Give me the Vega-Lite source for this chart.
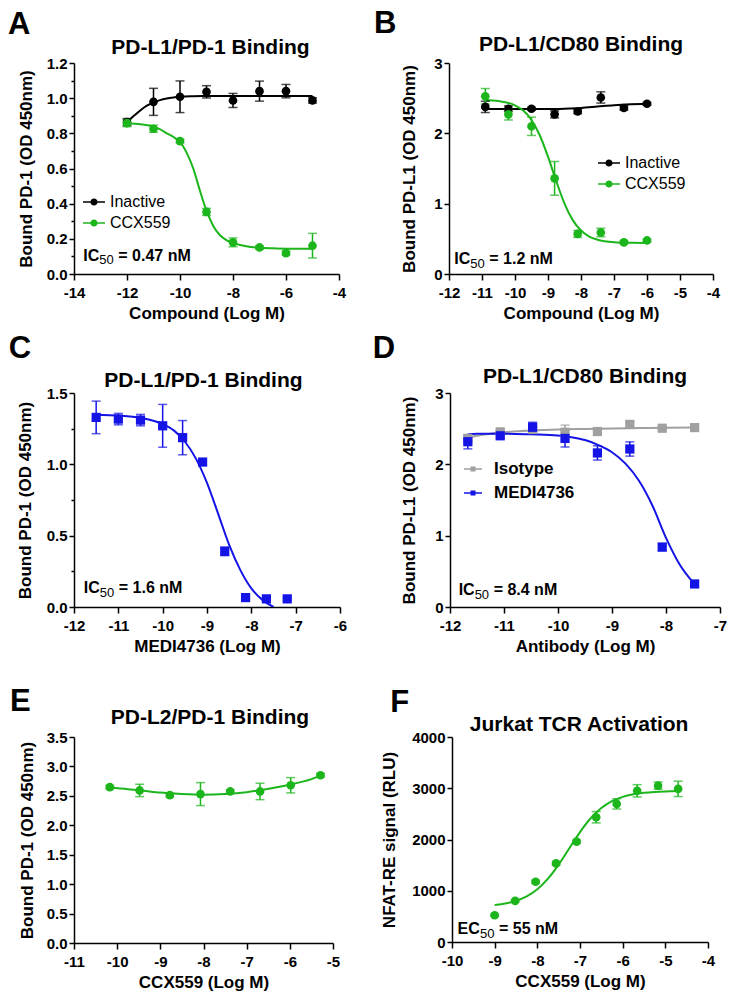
{
"$schema": "https://vega.github.io/schema/vega-lite/v6.json",
"background": "white",
"padding": {"top": 7, "left": 8, "right": 5, "bottom": 5},
"config": {
  "view": {"stroke": null},
  "font": "Liberation Sans",
  "locale": {"number": {"decimal": ".", "thousands": ",", "grouping": [3], "currency": ["$", ""], "minus": "-"}},
  "axis": {"domainColor": "#000", "domainWidth": 1.5, "tickColor": "#000", "tickWidth": 1.5, "tickSize": 5, "grid": false, "labelFont": "Liberation Sans", "labelFontSize": 15, "labelFontWeight": "bold", "labelColor": "#000", "labelFlush": false, "labelOverlap": false, "labelBound": false, "titleFont": "Liberation Sans", "titleFontSize": 17, "titleFontWeight": "bold", "titleColor": "#000"},
  "axisX": {"labelPadding": 5, "titlePadding": 5, "tickSize": 6},
  "axisY": {"labelPadding": 2},
  "legend": {"padding": 0, "labelFont": "Liberation Sans", "labelColor": "#000", "labelLimit": 0, "symbolStrokeWidth": 0, "symbolOpacity": 1},
  "text": {"font": "Liberation Sans", "fontWeight": "bold", "fill": "#000"}
},
"datasets": {
  "A_pts": [
    {"x": -12, "y": 0.864, "e": 0.02, "s": "Inactive"},
    {"x": -11, "y": 0.979, "e": 0.077, "s": "Inactive"},
    {"x": -10, "y": 1.008, "e": 0.09, "s": "Inactive"},
    {"x": -9, "y": 1.036, "e": 0.035, "s": "Inactive"},
    {"x": -8, "y": 0.987, "e": 0.04, "s": "Inactive"},
    {"x": -7, "y": 1.04, "e": 0.057, "s": "Inactive"},
    {"x": -6, "y": 1.04, "e": 0.038, "s": "Inactive"},
    {"x": -5, "y": 0.987, "e": 0.015, "s": "Inactive"},
    {"x": -12, "y": 0.858, "e": 0.02, "s": "CCX559"},
    {"x": -11, "y": 0.826, "e": 0.02, "s": "CCX559"},
    {"x": -10, "y": 0.756, "e": 0.01, "s": "CCX559"},
    {"x": -9, "y": 0.353, "e": 0.02, "s": "CCX559"},
    {"x": -8, "y": 0.18, "e": 0.025, "s": "CCX559"},
    {"x": -7, "y": 0.151, "e": 0.01, "s": "CCX559"},
    {"x": -6, "y": 0.119, "e": 0.01, "s": "CCX559"},
    {"x": -5, "y": 0.161, "e": 0.07, "s": "CCX559"}
  ],
  "A_fit": [
    {"x": -12, "y": 0.866, "s": "Inactive"}, {"x": -11.75, "y": 0.898, "s": "Inactive"}, {"x": -11.5, "y": 0.93, "s": "Inactive"}, {"x": -11.25, "y": 0.957, "s": "Inactive"}, {"x": -11, "y": 0.975, "s": "Inactive"}, {"x": -10.75, "y": 0.989, "s": "Inactive"}, {"x": -10.5, "y": 0.998, "s": "Inactive"}, {"x": -10.25, "y": 1.004, "s": "Inactive"}, {"x": -10, "y": 1.008, "s": "Inactive"}, {"x": -9.5, "y": 1.011, "s": "Inactive"}, {"x": -9, "y": 1.012, "s": "Inactive"}, {"x": -8, "y": 1.013, "s": "Inactive"}, {"x": -5, "y": 1.013, "s": "Inactive"},
    {"x": -12, "y": 0.858, "s": "CCX559"}, {"x": -11.5, "y": 0.852, "s": "CCX559"}, {"x": -11, "y": 0.838, "s": "CCX559"}, {"x": -10.75, "y": 0.822, "s": "CCX559"}, {"x": -10.5, "y": 0.8, "s": "CCX559"}, {"x": -10.25, "y": 0.78, "s": "CCX559"}, {"x": -10, "y": 0.752, "s": "CCX559"}, {"x": -9.75, "y": 0.69, "s": "CCX559"}, {"x": -9.5, "y": 0.6, "s": "CCX559"}, {"x": -9.25, "y": 0.475, "s": "CCX559"}, {"x": -9, "y": 0.36, "s": "CCX559"}, {"x": -8.75, "y": 0.275, "s": "CCX559"}, {"x": -8.5, "y": 0.222, "s": "CCX559"}, {"x": -8.25, "y": 0.193, "s": "CCX559"}, {"x": -8, "y": 0.176, "s": "CCX559"}, {"x": -7.5, "y": 0.158, "s": "CCX559"}, {"x": -7, "y": 0.149, "s": "CCX559"}, {"x": -6.5, "y": 0.146, "s": "CCX559"}, {"x": -6, "y": 0.144, "s": "CCX559"}, {"x": -5, "y": 0.143, "s": "CCX559"}
  ],
  "B_pts": [
    {"x": -10.9, "y": 2.376, "e": 0.08, "s": "Inactive"},
    {"x": -10.2, "y": 2.35, "e": 0.04, "s": "Inactive"},
    {"x": -9.5, "y": 2.35, "e": 0.02, "s": "Inactive"},
    {"x": -8.8, "y": 2.27, "e": 0.05, "s": "Inactive"},
    {"x": -8.1, "y": 2.31, "e": 0.03, "s": "Inactive"},
    {"x": -7.4, "y": 2.51, "e": 0.08, "s": "Inactive"},
    {"x": -6.7, "y": 2.36, "e": 0.03, "s": "Inactive"},
    {"x": -6, "y": 2.42, "e": 0.02, "s": "Inactive"},
    {"x": -10.9, "y": 2.527, "e": 0.11, "s": "CCX559"},
    {"x": -10.2, "y": 2.27, "e": 0.08, "s": "CCX559"},
    {"x": -9.5, "y": 2.1, "e": 0.13, "s": "CCX559"},
    {"x": -8.8, "y": 1.36, "e": 0.24, "s": "CCX559"},
    {"x": -8.1, "y": 0.57, "e": 0.05, "s": "CCX559"},
    {"x": -7.4, "y": 0.59, "e": 0.06, "s": "CCX559"},
    {"x": -6.7, "y": 0.45, "e": 0.02, "s": "CCX559"},
    {"x": -6, "y": 0.477, "e": 0.02, "s": "CCX559"}
  ],
  "B_fit": [
    {"x": -10.9, "y": 2.345, "s": "Inactive"}, {"x": -10, "y": 2.345, "s": "Inactive"}, {"x": -9, "y": 2.345, "s": "Inactive"}, {"x": -8.5, "y": 2.35, "s": "Inactive"}, {"x": -8, "y": 2.36, "s": "Inactive"}, {"x": -7.5, "y": 2.38, "s": "Inactive"}, {"x": -7, "y": 2.4, "s": "Inactive"}, {"x": -6.5, "y": 2.413, "s": "Inactive"}, {"x": -6, "y": 2.42, "s": "Inactive"},
    {"x": -10.9, "y": 2.473, "s": "CCX559"}, {"x": -10.5, "y": 2.459, "s": "CCX559"}, {"x": -10, "y": 2.398, "s": "CCX559"}, {"x": -9.75, "y": 2.323, "s": "CCX559"}, {"x": -9.5, "y": 2.19, "s": "CCX559"}, {"x": -9.25, "y": 1.973, "s": "CCX559"}, {"x": -9, "y": 1.668, "s": "CCX559"}, {"x": -8.75, "y": 1.32, "s": "CCX559"}, {"x": -8.5, "y": 1.002, "s": "CCX559"}, {"x": -8.25, "y": 0.766, "s": "CCX559"}, {"x": -8, "y": 0.618, "s": "CCX559"}, {"x": -7.75, "y": 0.533, "s": "CCX559"}, {"x": -7.5, "y": 0.488, "s": "CCX559"}, {"x": -7, "y": 0.452, "s": "CCX559"}, {"x": -6.5, "y": 0.443, "s": "CCX559"}, {"x": -6, "y": 0.441, "s": "CCX559"}
  ],
  "C_pts": [
    {"x": -11.5, "y": 1.329, "e": 0.114},
    {"x": -11, "y": 1.317, "e": 0.04},
    {"x": -10.5, "y": 1.31, "e": 0.04},
    {"x": -10, "y": 1.27, "e": 0.15},
    {"x": -9.55, "y": 1.187, "e": 0.12},
    {"x": -9.1, "y": 1.016, "e": 0.015},
    {"x": -8.6, "y": 0.39, "e": 0.03},
    {"x": -8.13, "y": 0.066, "e": 0.01},
    {"x": -7.66, "y": 0.057, "e": 0.01},
    {"x": -7.19, "y": 0.057, "e": 0.01}
  ],
  "C_fit": [
    {"x": -11.5, "y": 1.348}, {"x": -11, "y": 1.342}, {"x": -10.5, "y": 1.326}, {"x": -10, "y": 1.283}, {"x": -9.75, "y": 1.238}, {"x": -9.5, "y": 1.16}, {"x": -9.25, "y": 1.04}, {"x": -9, "y": 0.87}, {"x": -8.75, "y": 0.655}, {"x": -8.5, "y": 0.435}, {"x": -8.25, "y": 0.26}, {"x": -8, "y": 0.13}, {"x": -7.75, "y": 0.05}, {"x": -7.5, "y": 0.0}
  ],
  "D_pts": [
    {"x": -11.67, "y": 2.36, "e": 0.03, "s": "Isotype"},
    {"x": -11.07, "y": 2.455, "e": 0.03, "s": "Isotype"},
    {"x": -10.47, "y": 2.49, "e": 0.03, "s": "Isotype"},
    {"x": -9.87, "y": 2.45, "e": 0.1, "s": "Isotype"},
    {"x": -9.27, "y": 2.46, "e": 0.05, "s": "Isotype"},
    {"x": -8.67, "y": 2.56, "e": 0.04, "s": "Isotype"},
    {"x": -8.07, "y": 2.506, "e": 0.02, "s": "Isotype"},
    {"x": -7.47, "y": 2.515, "e": 0.02, "s": "Isotype"},
    {"x": -11.67, "y": 2.317, "e": 0.1, "s": "MEDI4736"},
    {"x": -11.07, "y": 2.4, "e": 0.03, "s": "MEDI4736"},
    {"x": -10.47, "y": 2.52, "e": 0.07, "s": "MEDI4736"},
    {"x": -9.87, "y": 2.363, "e": 0.12, "s": "MEDI4736"},
    {"x": -9.27, "y": 2.16, "e": 0.1, "s": "MEDI4736"},
    {"x": -8.67, "y": 2.215, "e": 0.1, "s": "MEDI4736"},
    {"x": -8.07, "y": 0.84, "e": 0.05, "s": "MEDI4736"},
    {"x": -7.47, "y": 0.323, "e": 0.04, "s": "MEDI4736"}
  ],
  "D_fit": [
    {"x": -11.67, "y": 2.37, "s": "Isotype"}, {"x": -11.5, "y": 2.4, "s": "Isotype"}, {"x": -11.25, "y": 2.43, "s": "Isotype"}, {"x": -11, "y": 2.45, "s": "Isotype"}, {"x": -10.5, "y": 2.475, "s": "Isotype"}, {"x": -10, "y": 2.49, "s": "Isotype"}, {"x": -9.5, "y": 2.497, "s": "Isotype"}, {"x": -9, "y": 2.503, "s": "Isotype"}, {"x": -8.5, "y": 2.508, "s": "Isotype"}, {"x": -8, "y": 2.513, "s": "Isotype"}, {"x": -7.47, "y": 2.517, "s": "Isotype"},
    {"x": -11.67, "y": 2.42, "s": "MEDI4736"}, {"x": -11.5, "y": 2.43, "s": "MEDI4736"}, {"x": -11, "y": 2.43, "s": "MEDI4736"}, {"x": -10.5, "y": 2.42, "s": "MEDI4736"}, {"x": -10, "y": 2.405, "s": "MEDI4736"}, {"x": -9.75, "y": 2.38, "s": "MEDI4736"}, {"x": -9.5, "y": 2.34, "s": "MEDI4736"}, {"x": -9.25, "y": 2.27, "s": "MEDI4736"}, {"x": -9, "y": 2.17, "s": "MEDI4736"}, {"x": -8.75, "y": 2.01, "s": "MEDI4736"}, {"x": -8.5, "y": 1.77, "s": "MEDI4736"}, {"x": -8.25, "y": 1.42, "s": "MEDI4736"}, {"x": -8, "y": 0.97, "s": "MEDI4736"}, {"x": -7.75, "y": 0.6, "s": "MEDI4736"}, {"x": -7.47, "y": 0.32, "s": "MEDI4736"}
  ],
  "E_pts": [
    {"x": -10.17, "y": 2.648, "e": 0.03},
    {"x": -9.48, "y": 2.592, "e": 0.105},
    {"x": -8.78, "y": 2.513, "e": 0.03},
    {"x": -8.07, "y": 2.53, "e": 0.195},
    {"x": -7.38, "y": 2.575, "e": 0.03},
    {"x": -6.69, "y": 2.575, "e": 0.14},
    {"x": -5.98, "y": 2.68, "e": 0.13},
    {"x": -5.29, "y": 2.85, "e": 0.03}
  ],
  "E_fit": [
    {"x": -10.17, "y": 2.645}, {"x": -9.75, "y": 2.612}, {"x": -9.48, "y": 2.595}, {"x": -9, "y": 2.555}, {"x": -8.5, "y": 2.53}, {"x": -8, "y": 2.518}, {"x": -7.5, "y": 2.53}, {"x": -7, "y": 2.562}, {"x": -6.5, "y": 2.62}, {"x": -6, "y": 2.69}, {"x": -5.5, "y": 2.785}, {"x": -5.29, "y": 2.845}
  ],
  "F_pts": [
    {"x": -9.0, "y": 522, "e": 20},
    {"x": -8.52, "y": 803, "e": 25},
    {"x": -8.04, "y": 1175, "e": 30},
    {"x": -7.56, "y": 1533, "e": 30},
    {"x": -7.08, "y": 1958, "e": 30},
    {"x": -6.62, "y": 2434, "e": 110},
    {"x": -6.14, "y": 2695, "e": 100},
    {"x": -5.66, "y": 2950, "e": 120},
    {"x": -5.17, "y": 3050, "e": 70},
    {"x": -4.7, "y": 2988, "e": 150}
  ],
  "F_fit": [
    {"x": -9, "y": 720}, {"x": -8.75, "y": 751}, {"x": -8.5, "y": 804}, {"x": -8.25, "y": 891}, {"x": -8, "y": 1029}, {"x": -7.75, "y": 1235}, {"x": -7.5, "y": 1509}, {"x": -7.25, "y": 1828}, {"x": -7, "y": 2145}, {"x": -6.75, "y": 2414}, {"x": -6.5, "y": 2614}, {"x": -6.25, "y": 2748}, {"x": -6, "y": 2832}, {"x": -5.75, "y": 2882}, {"x": -5.5, "y": 2911}, {"x": -5.25, "y": 2928}, {"x": -5, "y": 2938}, {"x": -4.7, "y": 2944}
  ]
},
"resolve": {"scale": {"color": "independent"}, "legend": {"color": "independent"}},
"spacing": 31,
"vconcat": [
 {
  "resolve": {"scale": {"color": "independent"}, "legend": {"color": "independent"}},
  "spacing": 11,
  "vconcat": [
   {
    "resolve": {"scale": {"color": "independent"}, "legend": {"color": "independent"}},
    "spacing": 28,
    "hconcat": [
     {
      "width": 265, "height": 211,
      "layer": [
       {"data": {"name": "A_fit"}, "transform": [{"filter": "datum.s == 'Inactive'"}],
        "mark": {"type": "line", "strokeWidth": 2, "interpolate": "monotone", "color": "#000000"},
        "encoding": {
         "x": {"field": "x", "type": "quantitative", "scale": {"domain": [-14, -4], "nice": false, "zero": false}, "axis": {"values": [-14, -12, -10, -8, -6, -4], "format": "d", "title": "Compound (Log M)"}},
         "y": {"field": "y", "type": "quantitative", "scale": {"domain": [0, 1.2], "nice": false, "zero": false}, "axis": {"values": [0, 0.1, 0.2, 0.3, 0.4, 0.5, 0.6, 0.7, 0.8, 0.9, 1.0, 1.1, 1.2], "format": ".1f", "labelExpr": "round(datum.value*10) % 2 == 0 ? datum.label : ''", "tickSize": {"condition": {"test": "round(datum.value*10) % 2 == 0", "value": 5}, "value": 3}, "title": "Bound PD-1 (OD 450nm)", "titlePadding": 11}}
        }},
       {"data": {"name": "A_fit"}, "transform": [{"filter": "datum.s == 'CCX559'"}],
        "mark": {"type": "line", "strokeWidth": 2, "interpolate": "monotone", "color": "#1CB51C"},
        "encoding": {
         "x": {"field": "x", "type": "quantitative", "scale": {"domain": [-14, -4], "nice": false, "zero": false}, "axis": {"values": [-14, -12, -10, -8, -6, -4], "format": "d", "title": "Compound (Log M)"}},
         "y": {"field": "y", "type": "quantitative", "scale": {"domain": [0, 1.2], "nice": false, "zero": false}, "axis": {"values": [0, 0.1, 0.2, 0.3, 0.4, 0.5, 0.6, 0.7, 0.8, 0.9, 1.0, 1.1, 1.2], "format": ".1f", "labelExpr": "round(datum.value*10) % 2 == 0 ? datum.label : ''", "tickSize": {"condition": {"test": "round(datum.value*10) % 2 == 0", "value": 5}, "value": 3}, "title": "Bound PD-1 (OD 450nm)", "titlePadding": 11}}
        }},
       {"data": {"name": "A_pts"}, "transform": [{"filter": "datum.s == 'Inactive'"}],
        "mark": {"type": "errorbar", "color": "#000000", "thickness": 1.5, "ticks": {"size": 9, "thickness": 1.5}},
        "encoding": {
         "x": {"field": "x", "type": "quantitative", "scale": {"domain": [-14, -4], "nice": false, "zero": false}, "axis": {"values": [-14, -12, -10, -8, -6, -4], "format": "d", "title": "Compound (Log M)"}},
         "y": {"field": "y", "type": "quantitative", "scale": {"domain": [0, 1.2], "nice": false, "zero": false}, "axis": {"values": [0, 0.1, 0.2, 0.3, 0.4, 0.5, 0.6, 0.7, 0.8, 0.9, 1.0, 1.1, 1.2], "format": ".1f", "labelExpr": "round(datum.value*10) % 2 == 0 ? datum.label : ''", "tickSize": {"condition": {"test": "round(datum.value*10) % 2 == 0", "value": 5}, "value": 3}, "title": "Bound PD-1 (OD 450nm)", "titlePadding": 11}},
         "yError": {"field": "e"}
        }},
       {"data": {"name": "A_pts"}, "transform": [{"filter": "datum.s == 'CCX559'"}],
        "mark": {"type": "errorbar", "color": "#1CB51C", "thickness": 1.5, "ticks": {"size": 9, "thickness": 1.5}},
        "encoding": {
         "x": {"field": "x", "type": "quantitative", "scale": {"domain": [-14, -4], "nice": false, "zero": false}, "axis": {"values": [-14, -12, -10, -8, -6, -4], "format": "d", "title": "Compound (Log M)"}},
         "y": {"field": "y", "type": "quantitative", "scale": {"domain": [0, 1.2], "nice": false, "zero": false}, "axis": {"values": [0, 0.1, 0.2, 0.3, 0.4, 0.5, 0.6, 0.7, 0.8, 0.9, 1.0, 1.1, 1.2], "format": ".1f", "labelExpr": "round(datum.value*10) % 2 == 0 ? datum.label : ''", "tickSize": {"condition": {"test": "round(datum.value*10) % 2 == 0", "value": 5}, "value": 3}, "title": "Bound PD-1 (OD 450nm)", "titlePadding": 11}},
         "yError": {"field": "e"}
        }},
       {"data": {"name": "A_pts"},
        "mark": {"type": "circle", "size": 75, "opacity": 1},
        "encoding": {
         "x": {"field": "x", "type": "quantitative", "scale": {"domain": [-14, -4], "nice": false, "zero": false}, "axis": {"values": [-14, -12, -10, -8, -6, -4], "format": "d", "title": "Compound (Log M)"}},
         "y": {"field": "y", "type": "quantitative", "scale": {"domain": [0, 1.2], "nice": false, "zero": false}, "axis": {"values": [0, 0.1, 0.2, 0.3, 0.4, 0.5, 0.6, 0.7, 0.8, 0.9, 1.0, 1.1, 1.2], "format": ".1f", "labelExpr": "round(datum.value*10) % 2 == 0 ? datum.label : ''", "tickSize": {"condition": {"test": "round(datum.value*10) % 2 == 0", "value": 5}, "value": 3}, "title": "Bound PD-1 (OD 450nm)", "titlePadding": 11}},
         "color": {"field": "s", "type": "nominal", "scale": {"domain": ["Inactive", "CCX559"], "range": ["#000000", "#1CB51C"]}, "legend": {"title": null, "orient": "none", "legendX": 10, "legendY": 129, "symbolType": "M-1.1,-0.075H1.1V0.075H-1.1Z M0.36,0A0.36,0.36,0,1,1,-0.36,0A0.36,0.36,0,1,1,0.36,0Z", "symbolSize": 400, "labelFontSize": 16, "labelFontWeight": "normal", "labelOffset": 6, "rowPadding": 3}}
        }},
       {"data": {"values": [{}]},
        "mark": {"type": "text", "text": "IC", "fontSize": 16, "align": "left", "baseline": "alphabetic"},
        "encoding": {
         "x": {"datum": -13.65, "type": "quantitative", "scale": {"domain": [-14, -4], "nice": false, "zero": false}, "axis": {"values": [-14, -12, -10, -8, -6, -4], "format": "d", "title": "Compound (Log M)"}},
         "y": {"datum": 0.074, "type": "quantitative", "scale": {"domain": [0, 1.2], "nice": false, "zero": false}, "axis": {"values": [0, 0.1, 0.2, 0.3, 0.4, 0.5, 0.6, 0.7, 0.8, 0.9, 1.0, 1.1, 1.2], "format": ".1f", "labelExpr": "round(datum.value*10) % 2 == 0 ? datum.label : ''", "tickSize": {"condition": {"test": "round(datum.value*10) % 2 == 0", "value": 5}, "value": 3}, "title": "Bound PD-1 (OD 450nm)", "titlePadding": 11}}
        }},
       {"data": {"values": [{}]},
        "mark": {"type": "text", "text": "50", "fontSize": 13, "fontWeight": "normal", "dx": 16, "dy": 3.5, "align": "left", "baseline": "alphabetic"},
        "encoding": {
         "x": {"datum": -13.65, "type": "quantitative", "scale": {"domain": [-14, -4], "nice": false, "zero": false}, "axis": {"values": [-14, -12, -10, -8, -6, -4], "format": "d", "title": "Compound (Log M)"}},
         "y": {"datum": 0.074, "type": "quantitative", "scale": {"domain": [0, 1.2], "nice": false, "zero": false}, "axis": {"values": [0, 0.1, 0.2, 0.3, 0.4, 0.5, 0.6, 0.7, 0.8, 0.9, 1.0, 1.1, 1.2], "format": ".1f", "labelExpr": "round(datum.value*10) % 2 == 0 ? datum.label : ''", "tickSize": {"condition": {"test": "round(datum.value*10) % 2 == 0", "value": 5}, "value": 3}, "title": "Bound PD-1 (OD 450nm)", "titlePadding": 11}}
        }},
       {"data": {"values": [{}]},
        "mark": {"type": "text", "text": "= 0.47 nM", "fontSize": 16, "dx": 35, "align": "left", "baseline": "alphabetic"},
        "encoding": {
         "x": {"datum": -13.65, "type": "quantitative", "scale": {"domain": [-14, -4], "nice": false, "zero": false}, "axis": {"values": [-14, -12, -10, -8, -6, -4], "format": "d", "title": "Compound (Log M)"}},
         "y": {"datum": 0.074, "type": "quantitative", "scale": {"domain": [0, 1.2], "nice": false, "zero": false}, "axis": {"values": [0, 0.1, 0.2, 0.3, 0.4, 0.5, 0.6, 0.7, 0.8, 0.9, 1.0, 1.1, 1.2], "format": ".1f", "labelExpr": "round(datum.value*10) % 2 == 0 ? datum.label : ''", "tickSize": {"condition": {"test": "round(datum.value*10) % 2 == 0", "value": 5}, "value": 3}, "title": "Bound PD-1 (OD 450nm)", "titlePadding": 11}}
        }},
       {"data": {"values": [{}]},
        "mark": {"type": "text", "text": "PD-L1/PD-1 Binding", "fontSize": 21, "align": "center", "baseline": "alphabetic"},
        "encoding": {
         "x": {"datum": -8.85, "type": "quantitative", "scale": {"domain": [-14, -4], "nice": false, "zero": false}, "axis": {"values": [-14, -12, -10, -8, -6, -4], "format": "d", "title": "Compound (Log M)"}},
         "y": {"datum": 1.249, "type": "quantitative", "scale": {"domain": [0, 1.2], "nice": false, "zero": false}, "axis": {"values": [0, 0.1, 0.2, 0.3, 0.4, 0.5, 0.6, 0.7, 0.8, 0.9, 1.0, 1.1, 1.2], "format": ".1f", "labelExpr": "round(datum.value*10) % 2 == 0 ? datum.label : ''", "tickSize": {"condition": {"test": "round(datum.value*10) % 2 == 0", "value": 5}, "value": 3}, "title": "Bound PD-1 (OD 450nm)", "titlePadding": 11}}
        }},
       {"data": {"values": [{}]},
        "mark": {"type": "text", "text": "A", "fontSize": 31, "align": "left", "baseline": "alphabetic"},
        "encoding": {
         "x": {"datum": -16.49, "type": "quantitative", "scale": {"domain": [-14, -4], "nice": false, "zero": false}, "axis": {"values": [-14, -12, -10, -8, -6, -4], "format": "d", "title": "Compound (Log M)"}},
         "y": {"datum": 1.365, "type": "quantitative", "scale": {"domain": [0, 1.2], "nice": false, "zero": false}, "axis": {"values": [0, 0.1, 0.2, 0.3, 0.4, 0.5, 0.6, 0.7, 0.8, 0.9, 1.0, 1.1, 1.2], "format": ".1f", "labelExpr": "round(datum.value*10) % 2 == 0 ? datum.label : ''", "tickSize": {"condition": {"test": "round(datum.value*10) % 2 == 0", "value": 5}, "value": 3}, "title": "Bound PD-1 (OD 450nm)", "titlePadding": 11}}
        }}
      ]
     },
     {
      "width": 264, "height": 211,
      "layer": [
       {"data": {"name": "B_fit"}, "transform": [{"filter": "datum.s == 'Inactive'"}],
        "mark": {"type": "line", "strokeWidth": 2, "interpolate": "monotone", "color": "#000000"},
        "encoding": {
         "x": {"field": "x", "type": "quantitative", "scale": {"domain": [-12, -4], "nice": false, "zero": false}, "axis": {"values": [-12, -11, -10, -9, -8, -7, -6, -5, -4], "format": "d", "title": "Compound (Log M)"}},
         "y": {"field": "y", "type": "quantitative", "scale": {"domain": [0, 3], "nice": false, "zero": false}, "axis": {"values": [0, 0.5, 1, 1.5, 2, 2.5, 3], "format": "d", "labelExpr": "datum.value % 1 == 0 ? datum.label : ''", "tickSize": {"condition": {"test": "datum.value % 1 == 0", "value": 5}, "value": 3}, "title": "Bound PD-L1 (OD 450nm)", "titlePadding": 15}}
        }},
       {"data": {"name": "B_fit"}, "transform": [{"filter": "datum.s == 'CCX559'"}],
        "mark": {"type": "line", "strokeWidth": 2, "interpolate": "monotone", "color": "#1CB51C"},
        "encoding": {
         "x": {"field": "x", "type": "quantitative", "scale": {"domain": [-12, -4], "nice": false, "zero": false}, "axis": {"values": [-12, -11, -10, -9, -8, -7, -6, -5, -4], "format": "d", "title": "Compound (Log M)"}},
         "y": {"field": "y", "type": "quantitative", "scale": {"domain": [0, 3], "nice": false, "zero": false}, "axis": {"values": [0, 0.5, 1, 1.5, 2, 2.5, 3], "format": "d", "labelExpr": "datum.value % 1 == 0 ? datum.label : ''", "tickSize": {"condition": {"test": "datum.value % 1 == 0", "value": 5}, "value": 3}, "title": "Bound PD-L1 (OD 450nm)", "titlePadding": 15}}
        }},
       {"data": {"name": "B_pts"}, "transform": [{"filter": "datum.s == 'Inactive'"}],
        "mark": {"type": "errorbar", "color": "#000000", "thickness": 1.5, "ticks": {"size": 9, "thickness": 1.5}},
        "encoding": {
         "x": {"field": "x", "type": "quantitative", "scale": {"domain": [-12, -4], "nice": false, "zero": false}, "axis": {"values": [-12, -11, -10, -9, -8, -7, -6, -5, -4], "format": "d", "title": "Compound (Log M)"}},
         "y": {"field": "y", "type": "quantitative", "scale": {"domain": [0, 3], "nice": false, "zero": false}, "axis": {"values": [0, 0.5, 1, 1.5, 2, 2.5, 3], "format": "d", "labelExpr": "datum.value % 1 == 0 ? datum.label : ''", "tickSize": {"condition": {"test": "datum.value % 1 == 0", "value": 5}, "value": 3}, "title": "Bound PD-L1 (OD 450nm)", "titlePadding": 15}},
         "yError": {"field": "e"}
        }},
       {"data": {"name": "B_pts"}, "transform": [{"filter": "datum.s == 'CCX559'"}],
        "mark": {"type": "errorbar", "color": "#1CB51C", "thickness": 1.5, "ticks": {"size": 9, "thickness": 1.5}},
        "encoding": {
         "x": {"field": "x", "type": "quantitative", "scale": {"domain": [-12, -4], "nice": false, "zero": false}, "axis": {"values": [-12, -11, -10, -9, -8, -7, -6, -5, -4], "format": "d", "title": "Compound (Log M)"}},
         "y": {"field": "y", "type": "quantitative", "scale": {"domain": [0, 3], "nice": false, "zero": false}, "axis": {"values": [0, 0.5, 1, 1.5, 2, 2.5, 3], "format": "d", "labelExpr": "datum.value % 1 == 0 ? datum.label : ''", "tickSize": {"condition": {"test": "datum.value % 1 == 0", "value": 5}, "value": 3}, "title": "Bound PD-L1 (OD 450nm)", "titlePadding": 15}},
         "yError": {"field": "e"}
        }},
       {"data": {"name": "B_pts"},
        "mark": {"type": "circle", "size": 75, "opacity": 1},
        "encoding": {
         "x": {"field": "x", "type": "quantitative", "scale": {"domain": [-12, -4], "nice": false, "zero": false}, "axis": {"values": [-12, -11, -10, -9, -8, -7, -6, -5, -4], "format": "d", "title": "Compound (Log M)"}},
         "y": {"field": "y", "type": "quantitative", "scale": {"domain": [0, 3], "nice": false, "zero": false}, "axis": {"values": [0, 0.5, 1, 1.5, 2, 2.5, 3], "format": "d", "labelExpr": "datum.value % 1 == 0 ? datum.label : ''", "tickSize": {"condition": {"test": "datum.value % 1 == 0", "value": 5}, "value": 3}, "title": "Bound PD-L1 (OD 450nm)", "titlePadding": 15}},
         "color": {"field": "s", "type": "nominal", "scale": {"domain": ["Inactive", "CCX559"], "range": ["#000000", "#1CB51C"]}, "legend": {"title": null, "orient": "none", "legendX": 150, "legendY": 90, "symbolType": "M-1.1,-0.075H1.1V0.075H-1.1Z M0.36,0A0.36,0.36,0,1,1,-0.36,0A0.36,0.36,0,1,1,0.36,0Z", "symbolSize": 400, "labelFontSize": 16, "labelFontWeight": "normal", "labelOffset": 6, "rowPadding": 3}}
        }},
       {"data": {"values": [{}]},
        "mark": {"type": "text", "text": "IC", "fontSize": 16, "align": "left", "baseline": "alphabetic"},
        "encoding": {
         "x": {"datum": -11.84, "type": "quantitative", "scale": {"domain": [-12, -4], "nice": false, "zero": false}, "axis": {"values": [-12, -11, -10, -9, -8, -7, -6, -5, -4], "format": "d", "title": "Compound (Log M)"}},
         "y": {"datum": 0.138, "type": "quantitative", "scale": {"domain": [0, 3], "nice": false, "zero": false}, "axis": {"values": [0, 0.5, 1, 1.5, 2, 2.5, 3], "format": "d", "labelExpr": "datum.value % 1 == 0 ? datum.label : ''", "tickSize": {"condition": {"test": "datum.value % 1 == 0", "value": 5}, "value": 3}, "title": "Bound PD-L1 (OD 450nm)", "titlePadding": 15}}
        }},
       {"data": {"values": [{}]},
        "mark": {"type": "text", "text": "50", "fontSize": 13, "fontWeight": "normal", "dx": 16, "dy": 3.5, "align": "left", "baseline": "alphabetic"},
        "encoding": {
         "x": {"datum": -11.84, "type": "quantitative", "scale": {"domain": [-12, -4], "nice": false, "zero": false}, "axis": {"values": [-12, -11, -10, -9, -8, -7, -6, -5, -4], "format": "d", "title": "Compound (Log M)"}},
         "y": {"datum": 0.138, "type": "quantitative", "scale": {"domain": [0, 3], "nice": false, "zero": false}, "axis": {"values": [0, 0.5, 1, 1.5, 2, 2.5, 3], "format": "d", "labelExpr": "datum.value % 1 == 0 ? datum.label : ''", "tickSize": {"condition": {"test": "datum.value % 1 == 0", "value": 5}, "value": 3}, "title": "Bound PD-L1 (OD 450nm)", "titlePadding": 15}}
        }},
       {"data": {"values": [{}]},
        "mark": {"type": "text", "text": "= 1.2 nM", "fontSize": 16, "dx": 35, "align": "left", "baseline": "alphabetic"},
        "encoding": {
         "x": {"datum": -11.84, "type": "quantitative", "scale": {"domain": [-12, -4], "nice": false, "zero": false}, "axis": {"values": [-12, -11, -10, -9, -8, -7, -6, -5, -4], "format": "d", "title": "Compound (Log M)"}},
         "y": {"datum": 0.138, "type": "quantitative", "scale": {"domain": [0, 3], "nice": false, "zero": false}, "axis": {"values": [0, 0.5, 1, 1.5, 2, 2.5, 3], "format": "d", "labelExpr": "datum.value % 1 == 0 ? datum.label : ''", "tickSize": {"condition": {"test": "datum.value % 1 == 0", "value": 5}, "value": 3}, "title": "Bound PD-L1 (OD 450nm)", "titlePadding": 15}}
        }},
       {"data": {"values": [{}]},
        "mark": {"type": "text", "text": "PD-L1/CD80 Binding", "fontSize": 21, "align": "center", "baseline": "alphabetic"},
        "encoding": {
         "x": {"datum": -8.0, "type": "quantitative", "scale": {"domain": [-12, -4], "nice": false, "zero": false}, "axis": {"values": [-12, -11, -10, -9, -8, -7, -6, -5, -4], "format": "d", "title": "Compound (Log M)"}},
         "y": {"datum": 3.171, "type": "quantitative", "scale": {"domain": [0, 3], "nice": false, "zero": false}, "axis": {"values": [0, 0.5, 1, 1.5, 2, 2.5, 3], "format": "d", "labelExpr": "datum.value % 1 == 0 ? datum.label : ''", "tickSize": {"condition": {"test": "datum.value % 1 == 0", "value": 5}, "value": 3}, "title": "Bound PD-L1 (OD 450nm)", "titlePadding": 15}}
        }},
       {"data": {"values": [{}]},
        "mark": {"type": "text", "text": "B", "fontSize": 31, "align": "left", "baseline": "alphabetic"},
        "encoding": {
         "x": {"datum": -14.27, "type": "quantitative", "scale": {"domain": [-12, -4], "nice": false, "zero": false}, "axis": {"values": [-12, -11, -10, -9, -8, -7, -6, -5, -4], "format": "d", "title": "Compound (Log M)"}},
         "y": {"datum": 3.427, "type": "quantitative", "scale": {"domain": [0, 3], "nice": false, "zero": false}, "axis": {"values": [0, 0.5, 1, 1.5, 2, 2.5, 3], "format": "d", "labelExpr": "datum.value % 1 == 0 ? datum.label : ''", "tickSize": {"condition": {"test": "datum.value % 1 == 0", "value": 5}, "value": 3}, "title": "Bound PD-L1 (OD 450nm)", "titlePadding": 15}}
        }}
      ]
     }
    ]
   },
   {
    "resolve": {"scale": {"color": "independent"}, "legend": {"color": "independent"}},
    "spacing": 25,
    "hconcat": [
     {
      "width": 266, "height": 214,
      "layer": [
       {"data": {"name": "C_fit"},
        "mark": {"type": "line", "strokeWidth": 2, "interpolate": "monotone", "color": "#1414E6", "clip": true},
        "encoding": {
         "x": {"field": "x", "type": "quantitative", "scale": {"domain": [-12, -6], "nice": false, "zero": false}, "axis": {"values": [-12, -11, -10, -9, -8, -7, -6], "format": "d", "title": "MEDI4736 (Log M)"}},
         "y": {"field": "y", "type": "quantitative", "scale": {"domain": [0, 1.5], "nice": false, "zero": false}, "axis": {"values": [0, 0.25, 0.5, 0.75, 1.0, 1.25, 1.5], "format": ".1f", "labelExpr": "round(datum.value*4) % 2 == 0 ? datum.label : ''", "tickSize": {"condition": {"test": "round(datum.value*4) % 2 == 0", "value": 5}, "value": 3}, "title": "Bound PD-1 (OD 450nm)", "titlePadding": 12}}
        }},
       {"data": {"name": "C_pts"},
        "mark": {"type": "errorbar", "color": "#1414E6", "thickness": 1.5, "ticks": {"size": 9, "thickness": 1.5}},
        "encoding": {
         "x": {"field": "x", "type": "quantitative", "scale": {"domain": [-12, -6], "nice": false, "zero": false}, "axis": {"values": [-12, -11, -10, -9, -8, -7, -6], "format": "d", "title": "MEDI4736 (Log M)"}},
         "y": {"field": "y", "type": "quantitative", "scale": {"domain": [0, 1.5], "nice": false, "zero": false}, "axis": {"values": [0, 0.25, 0.5, 0.75, 1.0, 1.25, 1.5], "format": ".1f", "labelExpr": "round(datum.value*4) % 2 == 0 ? datum.label : ''", "tickSize": {"condition": {"test": "round(datum.value*4) % 2 == 0", "value": 5}, "value": 3}, "title": "Bound PD-1 (OD 450nm)", "titlePadding": 12}},
         "yError": {"field": "e"}
        }},
       {"data": {"name": "C_pts"},
        "mark": {"type": "square", "size": 85, "opacity": 1, "color": "#1414E6"},
        "encoding": {
         "x": {"field": "x", "type": "quantitative", "scale": {"domain": [-12, -6], "nice": false, "zero": false}, "axis": {"values": [-12, -11, -10, -9, -8, -7, -6], "format": "d", "title": "MEDI4736 (Log M)"}},
         "y": {"field": "y", "type": "quantitative", "scale": {"domain": [0, 1.5], "nice": false, "zero": false}, "axis": {"values": [0, 0.25, 0.5, 0.75, 1.0, 1.25, 1.5], "format": ".1f", "labelExpr": "round(datum.value*4) % 2 == 0 ? datum.label : ''", "tickSize": {"condition": {"test": "round(datum.value*4) % 2 == 0", "value": 5}, "value": 3}, "title": "Bound PD-1 (OD 450nm)", "titlePadding": 12}}
        }},
       {"data": {"values": [{}]},
        "mark": {"type": "text", "text": "IC", "fontSize": 16, "align": "left", "baseline": "alphabetic"},
        "encoding": {
         "x": {"datum": -11.78, "type": "quantitative", "scale": {"domain": [-12, -6], "nice": false, "zero": false}, "axis": {"values": [-12, -11, -10, -9, -8, -7, -6], "format": "d", "title": "MEDI4736 (Log M)"}},
         "y": {"datum": 0.096, "type": "quantitative", "scale": {"domain": [0, 1.5], "nice": false, "zero": false}, "axis": {"values": [0, 0.25, 0.5, 0.75, 1.0, 1.25, 1.5], "format": ".1f", "labelExpr": "round(datum.value*4) % 2 == 0 ? datum.label : ''", "tickSize": {"condition": {"test": "round(datum.value*4) % 2 == 0", "value": 5}, "value": 3}, "title": "Bound PD-1 (OD 450nm)", "titlePadding": 12}}
        }},
       {"data": {"values": [{}]},
        "mark": {"type": "text", "text": "50", "fontSize": 13, "fontWeight": "normal", "dx": 16, "dy": 3.5, "align": "left", "baseline": "alphabetic"},
        "encoding": {
         "x": {"datum": -11.78, "type": "quantitative", "scale": {"domain": [-12, -6], "nice": false, "zero": false}, "axis": {"values": [-12, -11, -10, -9, -8, -7, -6], "format": "d", "title": "MEDI4736 (Log M)"}},
         "y": {"datum": 0.096, "type": "quantitative", "scale": {"domain": [0, 1.5], "nice": false, "zero": false}, "axis": {"values": [0, 0.25, 0.5, 0.75, 1.0, 1.25, 1.5], "format": ".1f", "labelExpr": "round(datum.value*4) % 2 == 0 ? datum.label : ''", "tickSize": {"condition": {"test": "round(datum.value*4) % 2 == 0", "value": 5}, "value": 3}, "title": "Bound PD-1 (OD 450nm)", "titlePadding": 12}}
        }},
       {"data": {"values": [{}]},
        "mark": {"type": "text", "text": "= 1.6 nM", "fontSize": 16, "dx": 35, "align": "left", "baseline": "alphabetic"},
        "encoding": {
         "x": {"datum": -11.78, "type": "quantitative", "scale": {"domain": [-12, -6], "nice": false, "zero": false}, "axis": {"values": [-12, -11, -10, -9, -8, -7, -6], "format": "d", "title": "MEDI4736 (Log M)"}},
         "y": {"datum": 0.096, "type": "quantitative", "scale": {"domain": [0, 1.5], "nice": false, "zero": false}, "axis": {"values": [0, 0.25, 0.5, 0.75, 1.0, 1.25, 1.5], "format": ".1f", "labelExpr": "round(datum.value*4) % 2 == 0 ? datum.label : ''", "tickSize": {"condition": {"test": "round(datum.value*4) % 2 == 0", "value": 5}, "value": 3}, "title": "Bound PD-1 (OD 450nm)", "titlePadding": 12}}
        }},
       {"data": {"values": [{}]},
        "mark": {"type": "text", "text": "PD-L1/PD-1 Binding", "fontSize": 21, "align": "center", "baseline": "alphabetic"},
        "encoding": {
         "x": {"datum": -9.08, "type": "quantitative", "scale": {"domain": [-12, -6], "nice": false, "zero": false}, "axis": {"values": [-12, -11, -10, -9, -8, -7, -6], "format": "d", "title": "MEDI4736 (Log M)"}},
         "y": {"datum": 1.544, "type": "quantitative", "scale": {"domain": [0, 1.5], "nice": false, "zero": false}, "axis": {"values": [0, 0.25, 0.5, 0.75, 1.0, 1.25, 1.5], "format": ".1f", "labelExpr": "round(datum.value*4) % 2 == 0 ? datum.label : ''", "tickSize": {"condition": {"test": "round(datum.value*4) % 2 == 0", "value": 5}, "value": 3}, "title": "Bound PD-1 (OD 450nm)", "titlePadding": 12}}
        }},
       {"data": {"values": [{}]},
        "mark": {"type": "text", "text": "C", "fontSize": 31, "align": "left", "baseline": "alphabetic"},
        "encoding": {
         "x": {"datum": -13.47, "type": "quantitative", "scale": {"domain": [-12, -6], "nice": false, "zero": false}, "axis": {"values": [-12, -11, -10, -9, -8, -7, -6], "format": "d", "title": "MEDI4736 (Log M)"}},
         "y": {"datum": 1.745, "type": "quantitative", "scale": {"domain": [0, 1.5], "nice": false, "zero": false}, "axis": {"values": [0, 0.25, 0.5, 0.75, 1.0, 1.25, 1.5], "format": ".1f", "labelExpr": "round(datum.value*4) % 2 == 0 ? datum.label : ''", "tickSize": {"condition": {"test": "round(datum.value*4) % 2 == 0", "value": 5}, "value": 3}, "title": "Bound PD-1 (OD 450nm)", "titlePadding": 12}}
        }}
      ]
     },
     {
      "width": 270, "height": 214,
      "layer": [
       {"data": {"name": "D_fit"}, "transform": [{"filter": "datum.s == 'Isotype'"}],
        "mark": {"type": "line", "strokeWidth": 2, "interpolate": "monotone", "color": "#A0A0A0"},
        "encoding": {
         "x": {"field": "x", "type": "quantitative", "scale": {"domain": [-12, -7], "nice": false, "zero": false}, "axis": {"values": [-12, -11, -10, -9, -8, -7], "format": "d", "title": "Antibody (Log M)"}},
         "y": {"field": "y", "type": "quantitative", "scale": {"domain": [0, 3], "nice": false, "zero": false}, "axis": {"values": [0, 0.5, 1, 1.5, 2, 2.5, 3], "format": "d", "labelExpr": "datum.value % 1 == 0 ? datum.label : ''", "tickSize": {"condition": {"test": "datum.value % 1 == 0", "value": 5}, "value": 3}, "title": "Bound PD-L1 (OD 450nm)", "titlePadding": 16}}
        }},
       {"data": {"name": "D_fit"}, "transform": [{"filter": "datum.s == 'MEDI4736'"}],
        "mark": {"type": "line", "strokeWidth": 2, "interpolate": "monotone", "color": "#1414E6"},
        "encoding": {
         "x": {"field": "x", "type": "quantitative", "scale": {"domain": [-12, -7], "nice": false, "zero": false}, "axis": {"values": [-12, -11, -10, -9, -8, -7], "format": "d", "title": "Antibody (Log M)"}},
         "y": {"field": "y", "type": "quantitative", "scale": {"domain": [0, 3], "nice": false, "zero": false}, "axis": {"values": [0, 0.5, 1, 1.5, 2, 2.5, 3], "format": "d", "labelExpr": "datum.value % 1 == 0 ? datum.label : ''", "tickSize": {"condition": {"test": "datum.value % 1 == 0", "value": 5}, "value": 3}, "title": "Bound PD-L1 (OD 450nm)", "titlePadding": 16}}
        }},
       {"data": {"name": "D_pts"}, "transform": [{"filter": "datum.s == 'Isotype'"}],
        "mark": {"type": "errorbar", "color": "#A0A0A0", "thickness": 1.5, "ticks": {"size": 9, "thickness": 1.5}},
        "encoding": {
         "x": {"field": "x", "type": "quantitative", "scale": {"domain": [-12, -7], "nice": false, "zero": false}, "axis": {"values": [-12, -11, -10, -9, -8, -7], "format": "d", "title": "Antibody (Log M)"}},
         "y": {"field": "y", "type": "quantitative", "scale": {"domain": [0, 3], "nice": false, "zero": false}, "axis": {"values": [0, 0.5, 1, 1.5, 2, 2.5, 3], "format": "d", "labelExpr": "datum.value % 1 == 0 ? datum.label : ''", "tickSize": {"condition": {"test": "datum.value % 1 == 0", "value": 5}, "value": 3}, "title": "Bound PD-L1 (OD 450nm)", "titlePadding": 16}},
         "yError": {"field": "e"}
        }},
       {"data": {"name": "D_pts"}, "transform": [{"filter": "datum.s == 'MEDI4736'"}],
        "mark": {"type": "errorbar", "color": "#1414E6", "thickness": 1.5, "ticks": {"size": 9, "thickness": 1.5}},
        "encoding": {
         "x": {"field": "x", "type": "quantitative", "scale": {"domain": [-12, -7], "nice": false, "zero": false}, "axis": {"values": [-12, -11, -10, -9, -8, -7], "format": "d", "title": "Antibody (Log M)"}},
         "y": {"field": "y", "type": "quantitative", "scale": {"domain": [0, 3], "nice": false, "zero": false}, "axis": {"values": [0, 0.5, 1, 1.5, 2, 2.5, 3], "format": "d", "labelExpr": "datum.value % 1 == 0 ? datum.label : ''", "tickSize": {"condition": {"test": "datum.value % 1 == 0", "value": 5}, "value": 3}, "title": "Bound PD-L1 (OD 450nm)", "titlePadding": 16}},
         "yError": {"field": "e"}
        }},
       {"data": {"name": "D_pts"},
        "mark": {"type": "square", "size": 85, "opacity": 1},
        "encoding": {
         "x": {"field": "x", "type": "quantitative", "scale": {"domain": [-12, -7], "nice": false, "zero": false}, "axis": {"values": [-12, -11, -10, -9, -8, -7], "format": "d", "title": "Antibody (Log M)"}},
         "y": {"field": "y", "type": "quantitative", "scale": {"domain": [0, 3], "nice": false, "zero": false}, "axis": {"values": [0, 0.5, 1, 1.5, 2, 2.5, 3], "format": "d", "labelExpr": "datum.value % 1 == 0 ? datum.label : ''", "tickSize": {"condition": {"test": "datum.value % 1 == 0", "value": 5}, "value": 3}, "title": "Bound PD-L1 (OD 450nm)", "titlePadding": 16}},
         "color": {"field": "s", "type": "nominal", "scale": {"domain": ["Isotype", "MEDI4736"], "range": ["#A0A0A0", "#1414E6"]}, "legend": {"title": null, "orient": "none", "legendX": 14, "legendY": 67, "symbolType": "M-1,-0.085H1V0.085H-1Z M-0.28,-0.28H0.28V0.28H-0.28Z", "symbolSize": 324, "labelFontSize": 17, "labelFontWeight": "bold", "labelOffset": 12, "rowPadding": 7}}
        }},
       {"data": {"values": [{}]},
        "mark": {"type": "text", "text": "IC", "fontSize": 16, "align": "left", "baseline": "alphabetic"},
        "encoding": {
         "x": {"datum": -11.84, "type": "quantitative", "scale": {"domain": [-12, -7], "nice": false, "zero": false}, "axis": {"values": [-12, -11, -10, -9, -8, -7], "format": "d", "title": "Antibody (Log M)"}},
         "y": {"datum": 0.168, "type": "quantitative", "scale": {"domain": [0, 3], "nice": false, "zero": false}, "axis": {"values": [0, 0.5, 1, 1.5, 2, 2.5, 3], "format": "d", "labelExpr": "datum.value % 1 == 0 ? datum.label : ''", "tickSize": {"condition": {"test": "datum.value % 1 == 0", "value": 5}, "value": 3}, "title": "Bound PD-L1 (OD 450nm)", "titlePadding": 16}}
        }},
       {"data": {"values": [{}]},
        "mark": {"type": "text", "text": "50", "fontSize": 13, "fontWeight": "normal", "dx": 16, "dy": 3.5, "align": "left", "baseline": "alphabetic"},
        "encoding": {
         "x": {"datum": -11.84, "type": "quantitative", "scale": {"domain": [-12, -7], "nice": false, "zero": false}, "axis": {"values": [-12, -11, -10, -9, -8, -7], "format": "d", "title": "Antibody (Log M)"}},
         "y": {"datum": 0.168, "type": "quantitative", "scale": {"domain": [0, 3], "nice": false, "zero": false}, "axis": {"values": [0, 0.5, 1, 1.5, 2, 2.5, 3], "format": "d", "labelExpr": "datum.value % 1 == 0 ? datum.label : ''", "tickSize": {"condition": {"test": "datum.value % 1 == 0", "value": 5}, "value": 3}, "title": "Bound PD-L1 (OD 450nm)", "titlePadding": 16}}
        }},
       {"data": {"values": [{}]},
        "mark": {"type": "text", "text": "= 8.4 nM", "fontSize": 16, "dx": 35, "align": "left", "baseline": "alphabetic"},
        "encoding": {
         "x": {"datum": -11.84, "type": "quantitative", "scale": {"domain": [-12, -7], "nice": false, "zero": false}, "axis": {"values": [-12, -11, -10, -9, -8, -7], "format": "d", "title": "Antibody (Log M)"}},
         "y": {"datum": 0.168, "type": "quantitative", "scale": {"domain": [0, 3], "nice": false, "zero": false}, "axis": {"values": [0, 0.5, 1, 1.5, 2, 2.5, 3], "format": "d", "labelExpr": "datum.value % 1 == 0 ? datum.label : ''", "tickSize": {"condition": {"test": "datum.value % 1 == 0", "value": 5}, "value": 3}, "title": "Bound PD-L1 (OD 450nm)", "titlePadding": 16}}
        }},
       {"data": {"values": [{}]},
        "mark": {"type": "text", "text": "PD-L1/CD80 Binding", "fontSize": 21, "align": "center", "baseline": "alphabetic"},
        "encoding": {
         "x": {"datum": -9.5, "type": "quantitative", "scale": {"domain": [-12, -7], "nice": false, "zero": false}, "axis": {"values": [-12, -11, -10, -9, -8, -7], "format": "d", "title": "Antibody (Log M)"}},
         "y": {"datum": 3.136, "type": "quantitative", "scale": {"domain": [0, 3], "nice": false, "zero": false}, "axis": {"values": [0, 0.5, 1, 1.5, 2, 2.5, 3], "format": "d", "labelExpr": "datum.value % 1 == 0 ? datum.label : ''", "tickSize": {"condition": {"test": "datum.value % 1 == 0", "value": 5}, "value": 3}, "title": "Bound PD-L1 (OD 450nm)", "titlePadding": 16}}
        }},
       {"data": {"values": [{}]},
        "mark": {"type": "text", "text": "D", "fontSize": 31, "align": "left", "baseline": "alphabetic"},
        "encoding": {
         "x": {"datum": -13.43, "type": "quantitative", "scale": {"domain": [-12, -7], "nice": false, "zero": false}, "axis": {"values": [-12, -11, -10, -9, -8, -7], "format": "d", "title": "Antibody (Log M)"}},
         "y": {"datum": 3.491, "type": "quantitative", "scale": {"domain": [0, 3], "nice": false, "zero": false}, "axis": {"values": [0, 0.5, 1, 1.5, 2, 2.5, 3], "format": "d", "labelExpr": "datum.value % 1 == 0 ? datum.label : ''", "tickSize": {"condition": {"test": "datum.value % 1 == 0", "value": 5}, "value": 3}, "title": "Bound PD-L1 (OD 450nm)", "titlePadding": 16}}
        }}
      ]
     }
    ]
   }
  ]
 },
 {
  "resolve": {"scale": {"color": "independent"}, "legend": {"color": "independent"}},
  "spacing": 40,
  "hconcat": [
   {
    "width": 259, "height": 206,
    "layer": [
     {"data": {"name": "E_fit"},
      "mark": {"type": "line", "strokeWidth": 2, "interpolate": "monotone", "color": "#1CB51C"},
      "encoding": {
       "x": {"field": "x", "type": "quantitative", "scale": {"domain": [-11, -5], "nice": false, "zero": false}, "axis": {"values": [-11, -10, -9, -8, -7, -6, -5], "format": "d", "title": "CCX559 (Log M)"}},
       "y": {"field": "y", "type": "quantitative", "scale": {"domain": [0, 3.5], "nice": false, "zero": false}, "axis": {"values": [0, 0.5, 1.0, 1.5, 2.0, 2.5, 3.0, 3.5], "format": ".1f", "title": "Bound PD-1 (OD 450nm)", "titlePadding": 10}}
      }},
     {"data": {"name": "E_pts"},
      "mark": {"type": "errorbar", "color": "#1CB51C", "thickness": 1.5, "ticks": {"size": 9, "thickness": 1.5}},
      "encoding": {
       "x": {"field": "x", "type": "quantitative", "scale": {"domain": [-11, -5], "nice": false, "zero": false}, "axis": {"values": [-11, -10, -9, -8, -7, -6, -5], "format": "d", "title": "CCX559 (Log M)"}},
       "y": {"field": "y", "type": "quantitative", "scale": {"domain": [0, 3.5], "nice": false, "zero": false}, "axis": {"values": [0, 0.5, 1.0, 1.5, 2.0, 2.5, 3.0, 3.5], "format": ".1f", "title": "Bound PD-1 (OD 450nm)", "titlePadding": 10}},
       "yError": {"field": "e"}
      }},
     {"data": {"name": "E_pts"},
      "mark": {"type": "circle", "size": 75, "opacity": 1, "color": "#1CB51C"},
      "encoding": {
       "x": {"field": "x", "type": "quantitative", "scale": {"domain": [-11, -5], "nice": false, "zero": false}, "axis": {"values": [-11, -10, -9, -8, -7, -6, -5], "format": "d", "title": "CCX559 (Log M)"}},
       "y": {"field": "y", "type": "quantitative", "scale": {"domain": [0, 3.5], "nice": false, "zero": false}, "axis": {"values": [0, 0.5, 1.0, 1.5, 2.0, 2.5, 3.0, 3.5], "format": ".1f", "title": "Bound PD-1 (OD 450nm)", "titlePadding": 10}}
      }},
     {"data": {"values": [{}]},
      "mark": {"type": "text", "text": "PD-L2/PD-1 Binding", "fontSize": 21, "align": "center", "baseline": "alphabetic"},
      "encoding": {
       "x": {"datum": -7.85, "type": "quantitative", "scale": {"domain": [-11, -5], "nice": false, "zero": false}, "axis": {"values": [-11, -10, -9, -8, -7, -6, -5], "format": "d", "title": "CCX559 (Log M)"}},
       "y": {"datum": 3.721, "type": "quantitative", "scale": {"domain": [0, 3.5], "nice": false, "zero": false}, "axis": {"values": [0, 0.5, 1.0, 1.5, 2.0, 2.5, 3.0, 3.5], "format": ".1f", "title": "Bound PD-1 (OD 450nm)", "titlePadding": 10}}
      }},
     {"data": {"values": [{}]},
      "mark": {"type": "text", "text": "E", "fontSize": 31, "align": "left", "baseline": "alphabetic"},
      "encoding": {
       "x": {"datum": -12.48, "type": "quantitative", "scale": {"domain": [-11, -5], "nice": false, "zero": false}, "axis": {"values": [-11, -10, -9, -8, -7, -6, -5], "format": "d", "title": "CCX559 (Log M)"}},
       "y": {"datum": 3.942, "type": "quantitative", "scale": {"domain": [0, 3.5], "nice": false, "zero": false}, "axis": {"values": [0, 0.5, 1.0, 1.5, 2.0, 2.5, 3.0, 3.5], "format": ".1f", "title": "Bound PD-1 (OD 450nm)", "titlePadding": 10}}
      }}
    ]
   },
   {
    "width": 256, "height": 205,
    "layer": [
     {"data": {"name": "F_fit"},
      "mark": {"type": "line", "strokeWidth": 2, "interpolate": "monotone", "color": "#1CB51C"},
      "encoding": {
       "x": {"field": "x", "type": "quantitative", "scale": {"domain": [-10, -4], "nice": false, "zero": false}, "axis": {"values": [-10, -9, -8, -7, -6, -5, -4], "format": "d", "title": "CCX559 (Log M)"}},
       "y": {"field": "y", "type": "quantitative", "scale": {"domain": [0, 4000], "nice": false, "zero": false}, "axis": {"values": [0, 1000, 2000, 3000, 4000], "format": "d", "title": "NFAT-RE signal (RLU)", "titlePadding": 13}}
      }},
     {"data": {"name": "F_pts"},
      "mark": {"type": "errorbar", "color": "#1CB51C", "thickness": 1.5, "ticks": {"size": 9, "thickness": 1.5}},
      "encoding": {
       "x": {"field": "x", "type": "quantitative", "scale": {"domain": [-10, -4], "nice": false, "zero": false}, "axis": {"values": [-10, -9, -8, -7, -6, -5, -4], "format": "d", "title": "CCX559 (Log M)"}},
       "y": {"field": "y", "type": "quantitative", "scale": {"domain": [0, 4000], "nice": false, "zero": false}, "axis": {"values": [0, 1000, 2000, 3000, 4000], "format": "d", "title": "NFAT-RE signal (RLU)", "titlePadding": 13}},
       "yError": {"field": "e"}
      }},
     {"data": {"name": "F_pts"},
      "mark": {"type": "circle", "size": 75, "opacity": 1, "color": "#1CB51C"},
      "encoding": {
       "x": {"field": "x", "type": "quantitative", "scale": {"domain": [-10, -4], "nice": false, "zero": false}, "axis": {"values": [-10, -9, -8, -7, -6, -5, -4], "format": "d", "title": "CCX559 (Log M)"}},
       "y": {"field": "y", "type": "quantitative", "scale": {"domain": [0, 4000], "nice": false, "zero": false}, "axis": {"values": [0, 1000, 2000, 3000, 4000], "format": "d", "title": "NFAT-RE signal (RLU)", "titlePadding": 13}}
      }},
     {"data": {"values": [{}]},
      "mark": {"type": "text", "text": "EC", "fontSize": 16, "align": "left", "baseline": "alphabetic"},
      "encoding": {
       "x": {"datum": -9.87, "type": "quantitative", "scale": {"domain": [-10, -4], "nice": false, "zero": false}, "axis": {"values": [-10, -9, -8, -7, -6, -5, -4], "format": "d", "title": "CCX559 (Log M)"}},
       "y": {"datum": 156, "type": "quantitative", "scale": {"domain": [0, 4000], "nice": false, "zero": false}, "axis": {"values": [0, 1000, 2000, 3000, 4000], "format": "d", "title": "NFAT-RE signal (RLU)", "titlePadding": 13}}
      }},
     {"data": {"values": [{}]},
      "mark": {"type": "text", "text": "50", "fontSize": 13, "fontWeight": "normal", "dx": 22.5, "dy": 3.5, "align": "left", "baseline": "alphabetic"},
      "encoding": {
       "x": {"datum": -9.87, "type": "quantitative", "scale": {"domain": [-10, -4], "nice": false, "zero": false}, "axis": {"values": [-10, -9, -8, -7, -6, -5, -4], "format": "d", "title": "CCX559 (Log M)"}},
       "y": {"datum": 156, "type": "quantitative", "scale": {"domain": [0, 4000], "nice": false, "zero": false}, "axis": {"values": [0, 1000, 2000, 3000, 4000], "format": "d", "title": "NFAT-RE signal (RLU)", "titlePadding": 13}}
      }},
     {"data": {"values": [{}]},
      "mark": {"type": "text", "text": "= 55 nM", "fontSize": 16, "dx": 41.5, "align": "left", "baseline": "alphabetic"},
      "encoding": {
       "x": {"datum": -9.87, "type": "quantitative", "scale": {"domain": [-10, -4], "nice": false, "zero": false}, "axis": {"values": [-10, -9, -8, -7, -6, -5, -4], "format": "d", "title": "CCX559 (Log M)"}},
       "y": {"datum": 156, "type": "quantitative", "scale": {"domain": [0, 4000], "nice": false, "zero": false}, "axis": {"values": [0, 1000, 2000, 3000, 4000], "format": "d", "title": "NFAT-RE signal (RLU)", "titlePadding": 13}}
      }},
     {"data": {"values": [{}]},
      "mark": {"type": "text", "text": "Jurkat TCR Activation", "fontSize": 21, "align": "center", "baseline": "alphabetic"},
      "encoding": {
       "x": {"datum": -7.02, "type": "quantitative", "scale": {"domain": [-10, -4], "nice": false, "zero": false}, "axis": {"values": [-10, -9, -8, -7, -6, -5, -4], "format": "d", "title": "CCX559 (Log M)"}},
       "y": {"datum": 4123, "type": "quantitative", "scale": {"domain": [0, 4000], "nice": false, "zero": false}, "axis": {"values": [0, 1000, 2000, 3000, 4000], "format": "d", "title": "NFAT-RE signal (RLU)", "titlePadding": 13}}
      }},
     {"data": {"values": [{}]},
      "mark": {"type": "text", "text": "F", "fontSize": 31, "align": "left", "baseline": "alphabetic"},
      "encoding": {
       "x": {"datum": -11.45, "type": "quantitative", "scale": {"domain": [-10, -4], "nice": false, "zero": false}, "axis": {"values": [-10, -9, -8, -7, -6, -5, -4], "format": "d", "title": "CCX559 (Log M)"}},
       "y": {"datum": 4488, "type": "quantitative", "scale": {"domain": [0, 4000], "nice": false, "zero": false}, "axis": {"values": [0, 1000, 2000, 3000, 4000], "format": "d", "title": "NFAT-RE signal (RLU)", "titlePadding": 13}}
      }}
    ]
   }
  ]
 }
]
}
